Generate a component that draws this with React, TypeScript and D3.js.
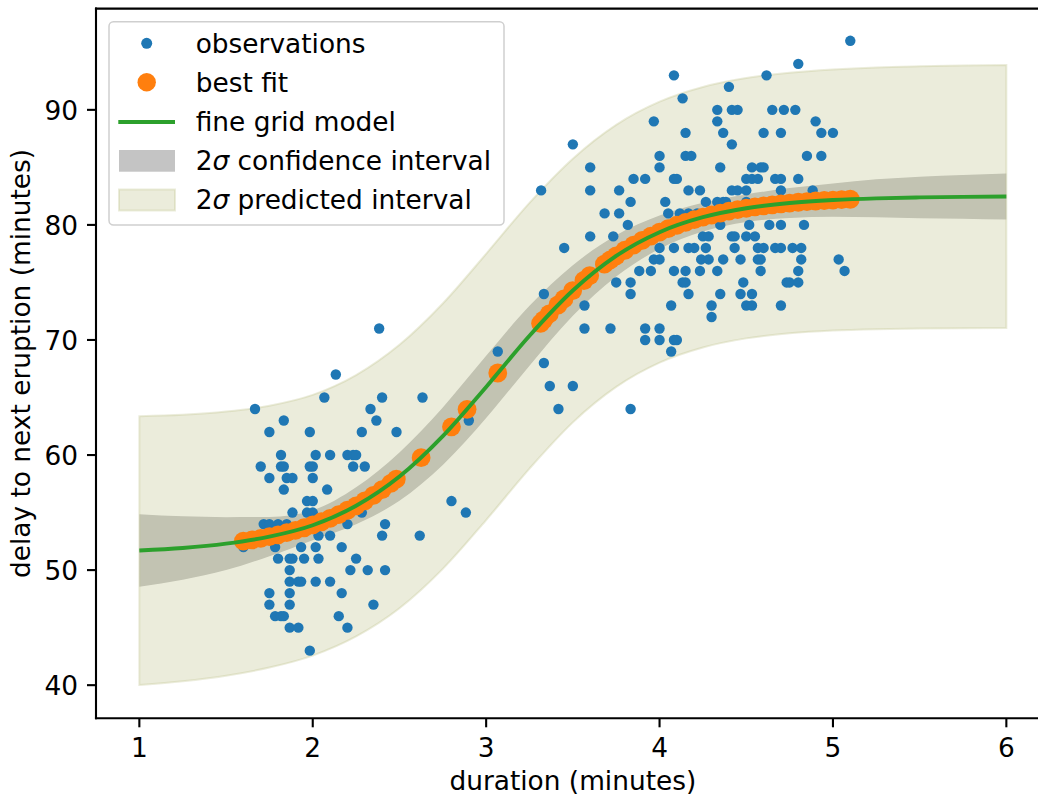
import React from 'react';
import * as d3 from 'd3';

// ---- data ----
const gridX = [1.0, 1.25, 1.5, 1.75, 2.0, 2.25, 2.5, 2.75, 3.0, 3.25, 3.5, 3.75, 4.0, 4.25, 4.5, 4.75, 5.0, 5.25, 5.5, 5.75, 6.0];
const fineGridY = [51.70, 51.92, 52.30, 52.91, 53.90, 55.59, 58.13, 61.64, 65.92, 70.37, 74.30, 77.31, 79.37, 80.67, 81.45, 81.90, 82.16, 82.31, 82.39, 82.44, 82.47];
const confLower = [48.55, 49.17, 50.00, 51.21, 52.60, 53.99, 56.03, 59.14, 63.22, 67.77, 72.10, 75.51, 77.92, 79.42, 80.25, 80.60, 80.71, 80.66, 80.59, 80.54, 80.47];
const confUpper = [54.85, 54.67, 54.60, 54.61, 55.20, 57.19, 60.23, 64.14, 68.62, 72.97, 76.50, 79.11, 80.82, 81.92, 82.65, 83.20, 83.61, 83.96, 84.19, 84.34, 84.47];
const predLower = [40.02, 40.34, 40.82, 41.53, 42.57, 44.23, 46.68, 50.11, 54.35, 58.82, 62.84, 65.92, 68.03, 69.35, 70.14, 70.58, 70.82, 70.94, 71.00, 71.03, 71.04];
const predUpper = [63.38, 63.50, 63.78, 64.29, 65.23, 66.95, 69.58, 73.17, 77.49, 81.92, 85.76, 88.70, 90.71, 91.99, 92.76, 93.22, 93.50, 93.68, 93.78, 93.85, 93.90];

const bestFitX = [1.60, 1.65, 1.70, 1.75, 1.80, 1.85, 1.90, 1.95, 2.00, 2.05, 2.10, 2.15, 2.20, 2.25, 2.30, 2.35, 2.40, 2.45, 2.482, 2.625, 2.80, 2.89, 3.067, 3.314, 3.332, 3.364, 3.414, 3.449, 3.499, 3.564, 3.597, 3.682, 3.716, 3.75, 3.80, 3.85, 3.90, 3.95, 4.00, 4.05, 4.10, 4.15, 4.20, 4.25, 4.30, 4.35, 4.40, 4.45, 4.50, 4.55, 4.60, 4.65, 4.70, 4.75, 4.80, 4.85, 4.90, 4.95, 5.00, 5.05, 5.10];
const bestFitY = [52.51, 52.63, 52.76, 52.91, 53.07, 53.25, 53.46, 53.68, 53.93, 54.20, 54.50, 54.83, 55.20, 55.59, 56.02, 56.49, 56.99, 57.54, 57.91, 59.77, 62.45, 63.97, 67.13, 71.45, 71.75, 72.26, 73.04, 73.57, 74.29, 75.17, 75.59, 76.59, 76.96, 77.31, 77.80, 78.24, 78.65, 79.03, 79.37, 79.68, 79.97, 80.22, 80.46, 80.67, 80.86, 81.03, 81.19, 81.33, 81.45, 81.56, 81.66, 81.75, 81.83, 81.90, 81.97, 82.03, 82.08, 82.12, 82.16, 82.20, 82.23];

// observations: [duration, delay]
const observations: [number, number][] = [
  [2.383, 71], [2.133, 67], [2.067, 65], [2.4, 65], [2.633, 65], [1.667, 64], [2.333, 64], [1.833, 63], [2.367, 63], [2.9, 63],
  [1.75, 62], [1.983, 62], [2.283, 62], [2.483, 62],
  [1.817, 60], [2.017, 60], [2.1, 60], [2.2, 60], [2.233, 60], [2.25, 60],
  [1.7, 59], [1.817, 59], [1.833, 59], [1.983, 59], [2.0, 59], [2.233, 59], [2.3, 59],
  [1.75, 58], [1.85, 58], [1.883, 58], [2.0, 58],
  [1.833, 57], [2.083, 57],
  [1.967, 56], [2.0, 56], [2.8, 56],
  [1.883, 55], [1.967, 55], [2.0, 55], [2.283, 55], [2.883, 55],
  [1.717, 54], [1.75, 54], [1.8, 54], [1.85, 54], [2.2, 54], [2.417, 54],
  [2.033, 53], [2.1, 53], [2.4, 53], [2.617, 53],
  [1.6, 52], [1.783, 52], [1.933, 52], [2.017, 52], [2.167, 52],
  [1.8, 51], [1.867, 51], [1.883, 51], [1.95, 51], [2.033, 51], [2.25, 51],
  [1.867, 50], [2.217, 50], [2.317, 50], [2.417, 50],
  [1.867, 49], [1.917, 49], [1.933, 49], [2.017, 49], [2.1, 49],
  [1.75, 48], [1.867, 48], [2.167, 48],
  [1.75, 47], [1.867, 47], [2.35, 47],
  [1.783, 46], [1.817, 46], [1.833, 46], [2.15, 46],
  [1.867, 45], [1.917, 45], [2.2, 45],
  [1.983, 43],
  [3.067, 69], [3.333, 68], [3.367, 66], [3.5, 66], [3.417, 64], [3.833, 64],
  [5.1, 96], [4.8, 94], [4.083, 93], [4.617, 93], [4.4, 92], [4.133, 91],
  [4.333, 90], [4.417, 90], [4.45, 90], [4.65, 90], [4.717, 90], [4.783, 90],
  [3.967, 89], [4.333, 89], [4.9, 89],
  [4.15, 88], [4.367, 88], [4.6, 88], [4.7, 88], [4.933, 88], [5.0, 88],
  [3.5, 87], [4.417, 87],
  [4.0, 86], [4.15, 86], [4.183, 86], [4.85, 86], [4.933, 86],
  [3.6, 85], [4.0, 85], [4.35, 85], [4.533, 85], [4.583, 85], [4.6, 85],
  [3.85, 84], [3.917, 84], [4.083, 84], [4.1, 84], [4.5, 84], [4.533, 84], [4.567, 84], [4.667, 84], [4.7, 84], [4.8, 84],
  [3.317, 83], [3.6, 83], [3.767, 83], [4.167, 83], [4.233, 83], [4.417, 83], [4.45, 83], [4.5, 83], [4.7, 83], [4.883, 83],
  [3.833, 82], [4.033, 82], [4.267, 82], [4.333, 82], [4.367, 82], [4.383, 82], [4.5, 82],
  [3.683, 81], [3.767, 81], [4.05, 81], [4.117, 81], [4.167, 81], [4.217, 81],
  [3.817, 80], [4.35, 80], [4.517, 80], [4.633, 80], [4.7, 80], [4.833, 80],
  [3.6, 79], [3.733, 79], [4.25, 79], [4.283, 79], [4.417, 79], [4.433, 79], [4.5, 79], [4.55, 79],
  [3.45, 78], [4.0, 78], [4.083, 78], [4.167, 78], [4.2, 78], [4.267, 78], [4.433, 78], [4.567, 78], [4.6, 78], [4.667, 78], [4.7, 78], [4.767, 78], [4.817, 78],
  [3.967, 77], [4.0, 77], [4.24, 77], [4.283, 77], [4.367, 77], [4.467, 77], [4.567, 77], [4.583, 77], [4.817, 77], [5.033, 77],
  [3.883, 76], [3.95, 76], [4.083, 76], [4.15, 76], [4.233, 76], [4.333, 76], [4.583, 76], [4.8, 76], [5.067, 76],
  [3.75, 75], [3.833, 75], [4.133, 75], [4.15, 75], [4.483, 75], [4.733, 75], [4.75, 75], [4.8, 75],
  [3.333, 74], [3.833, 74], [4.167, 74], [4.35, 74], [4.467, 74], [4.533, 74],
  [3.567, 73], [4.067, 73], [4.3, 73], [4.5, 73], [4.533, 73], [4.7, 73],
  [4.3, 72],
  [3.567, 71], [3.717, 71], [3.917, 71], [4.0, 71],
  [3.917, 70], [4.0, 70], [4.083, 70], [4.1, 70],
  [4.067, 69],
];

const xTicks = [1, 2, 3, 4, 5, 6];
const yTicks = [40, 50, 60, 70, 80, 90];

const FONT = '"DejaVu Sans", sans-serif';
const BLUE = '#1f77b4';
const ORANGE = '#ff7f0e';
const GREEN = '#2ca02c';
const CONF = '#c4c4c4';
const PRED = 'rgba(188,192,135,0.3)';

export default function App() {
  const W = 1038, H = 800;
  const left = 96, right = 1049.7, top = 8.6, bottom = 718.3;
  const x = d3.scaleLinear().domain([0.75, 6.25]).range([left, right]);
  const y = d3.scaleLinear().domain([37.12, 98.8]).range([bottom, top]);

  const band = (lo: number[], hi: number[]) =>
    d3.area<number>()
      .x((d) => x(d))
      .y0((_, i) => y(lo[i]))
      .y1((_, i) => y(hi[i]))
      .curve(d3.curveMonotoneX)(gridX) || '';
  const fitLine = d3.line<number>()
    .x((d) => x(d))
    .y((_, i) => y(fineGridY[i]))
    .curve(d3.curveMonotoneX)(gridX) || '';

  const fs = 26.4;
  const legendRows = [53, 92, 131, 170, 209];
  const lx = 146.7;
  const tx = 195.7;

  return (
    <svg width={W} height={H} style={{ position: 'absolute', left: 0, top: 0, background: '#fff' }} fontFamily={FONT}>
      <rect x={0} y={0} width={W} height={H} fill="#fff" />
      <defs>
        <clipPath id="plotclip">
          <rect x={left} y={top} width={right - left} height={bottom - top} />
        </clipPath>
      </defs>
      <g clipPath="url(#plotclip)">
        <path d={band(confLower, confUpper)} fill={CONF} />
        <path d={band(predLower, predUpper)} fill={PRED} stroke={PRED} strokeWidth={2} />
        {observations.map(([dx, dy], i) => (
          <circle key={'o' + i} cx={x(dx)} cy={y(dy)} r={5.2} fill={BLUE} />
        ))}
        {bestFitX.map((bx, i) => (
          <circle key={'b' + i} cx={x(bx)} cy={y(bestFitY[i])} r={9.4} fill={ORANGE} />
        ))}
        <path d={fitLine} fill="none" stroke={GREEN} strokeWidth={3.9} />
      </g>

      {/* spines */}
      <line x1={left} x2={left} y1={top} y2={bottom} stroke="#000" strokeWidth={2.1} strokeLinecap="square" />
      <line x1={left} x2={right} y1={bottom} y2={bottom} stroke="#000" strokeWidth={2.1} strokeLinecap="square" />
      <line x1={left} x2={right} y1={top} y2={top} stroke="#000" strokeWidth={2.1} strokeLinecap="square" />

      {/* x ticks */}
      {xTicks.map((t) => (
        <g key={'xt' + t}>
          <line x1={x(t)} x2={x(t)} y1={bottom} y2={bottom + 9} stroke="#000" strokeWidth={2.1} />
          <text x={x(t)} y={757} fontSize={fs} textAnchor="middle" fill="#000">{t}</text>
        </g>
      ))}
      {/* y ticks */}
      {yTicks.map((t) => (
        <g key={'yt' + t}>
          <line x1={left - 9} x2={left} y1={y(t)} y2={y(t)} stroke="#000" strokeWidth={2.1} />
          <text x={78} y={y(t) + 9.8} fontSize={fs} textAnchor="end" fill="#000">{t}</text>
        </g>
      ))}

      <text x={(left + right) / 2} y={790} fontSize={fs} textAnchor="middle" fill="#000">duration (minutes)</text>
      <text transform={`translate(30,${(top + bottom) / 2}) rotate(-90)`} fontSize={fs} textAnchor="middle" fill="#000">
        delay to next eruption (minutes)
      </text>

      {/* legend */}
      <rect x={109} y={21.7} width={395} height={203.3} rx={4.5} fill="rgba(255,255,255,0.8)" stroke="#cfcfcf" strokeWidth={1.5} />
      <circle cx={lx} cy={legendRows[0] - 9.7} r={5.5} fill={BLUE} />
      <circle cx={lx} cy={legendRows[1] - 9.7} r={9.2} fill={ORANGE} />
      <line x1={118.3} x2={175} y1={legendRows[2] - 9} y2={legendRows[2] - 9} stroke={GREEN} strokeWidth={3.9} />
      <rect x={119} y={150} width={56} height={21.7} fill={CONF} />
      <rect x={119} y={189.5} width={56} height={21} fill={PRED} stroke={PRED} strokeWidth={2} />
      <text x={tx} y={legendRows[0]} fontSize={fs} fill="#000">observations</text>
      <text x={tx} y={legendRows[1]} fontSize={fs} fill="#000">best fit</text>
      <text x={tx} y={legendRows[2]} fontSize={fs} fill="#000">fine grid model</text>
      <text x={tx} y={legendRows[3]} fontSize={fs} fill="#000">
        2<tspan fontStyle="italic">σ</tspan> confidence interval
      </text>
      <text x={tx} y={legendRows[4]} fontSize={fs} fill="#000">
        2<tspan fontStyle="italic">σ</tspan> predicted interval
      </text>
    </svg>
  );
}
